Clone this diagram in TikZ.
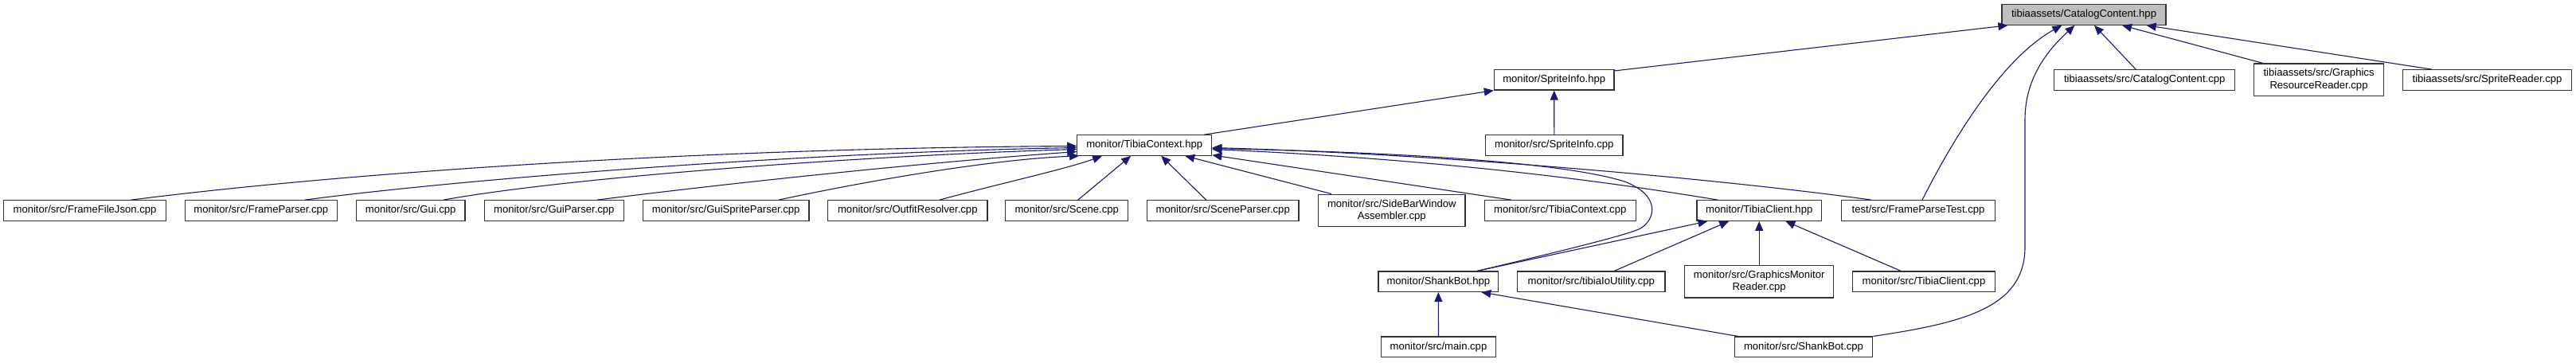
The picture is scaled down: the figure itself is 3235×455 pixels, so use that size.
\documentclass[tikz,border=0pt]{standalone}
\usepackage{fontspec}
\setmainfont{Liberation Sans}
\usetikzlibrary{arrows.meta,calc}
\definecolor{edgeblue}{HTML}{191970}
\definecolor{rootgray}{HTML}{BFBFBF}
\begin{document}
\begin{tikzpicture}[x=1pt,y=-1pt,
  box/.style={draw=black!80,line width=1.2pt,fill=white,inner sep=0pt,align=center,
    font=\fontsize{13.1}{15.7}\selectfont,minimum height=25.5pt},
  tall/.style={minimum height=40.7pt},
  dep/.style={draw=edgeblue,line width=1.1pt,-{Triangle[length=12pt,width=10pt]}}
]
\path[use as bounding box,fill=white] (0,0) rectangle (3235,455);

% row 0
\node[box,fill=rootgray,minimum width=206pt] (CC) at (2617,18.5) {tibiaassets/CatalogContent.hpp};
% row 1
\node[box,minimum width=150.7pt] (SIh) at (1951.7,100.3) {monitor/SpriteInfo.hpp};
\node[box,minimum width=227pt] (CCcpp) at (2693.2,100.5) {tibiaassets/src/CatalogContent.cpp};
\node[box,tall,minimum width=163.4pt] (GRR) at (2912,100.3) {tibiaassets/src/Graphics\\ResourceReader.cpp};
\node[box,minimum width=211.6pt] (SR) at (3123.5,100.5) {tibiaassets/src/SpriteReader.cpp};
% row 2
\node[box,minimum width=172.3pt] (SIcpp) at (1951.8,182.5) {monitor/src/SpriteInfo.cpp};
\node[box,minimum width=169pt] (TCh) at (1437.2,182.5) {monitor/TibiaContext.hpp};
% row 3
\node[box,minimum width=203.6pt] (FFJ) at (106.5,264.5) {monitor/src/FrameFileJson.cpp};
\node[box,minimum width=191pt] (FP) at (327.8,264.5) {monitor/src/FrameParser.cpp};
\node[box,minimum width=136.7pt] (Gui) at (515.7,264.5) {monitor/src/Gui.cpp};
\node[box,minimum width=175pt] (GP) at (695.8,264.5) {monitor/src/GuiParser.cpp};
\node[box,minimum width=208.7pt] (GSP) at (911.7,264.5) {monitor/src/GuiSpriteParser.cpp};
\node[box,minimum width=200.5pt] (OR) at (1139.8,264.5) {monitor/src/OutfitResolver.cpp};
\node[box,minimum width=154pt] (Scene) at (1339.7,264.5) {monitor/src/Scene.cpp};
\node[box,minimum width=190.7pt] (SP) at (1535.7,264.5) {monitor/src/SceneParser.cpp};
\node[box,tall,minimum width=184.3pt] (SB) at (1747.8,264.5) {monitor/src/SideBarWindow\\Assembler.cpp};
\node[box,minimum width=189.8pt] (TCcpp) at (1959.2,264.5) {monitor/src/TibiaContext.cpp};
\node[box,minimum width=156.3pt] (TCl) at (2209.2,264.5) {monitor/TibiaClient.hpp};
\node[box,minimum width=192.5pt] (FPT) at (2409,264.5) {test/src/FrameParseTest.cpp};
% row 4
\node[box,minimum width=150.7pt] (SBh) at (1806.3,353.7) {monitor/ShankBot.hpp};
\node[box,minimum width=185.3pt] (TIU) at (1998.3,353.7) {monitor/src/tibiaIoUtility.cpp};
\node[box,tall,minimum width=187pt] (GMR) at (2209.2,353.7) {monitor/src/GraphicsMonitor\\Reader.cpp};
\node[box,minimum width=178.6pt] (TCcl) at (2416,353.7) {monitor/src/TibiaClient.cpp};
% row 5
\node[box,minimum width=144.4pt] (main) at (1806.5,435.8) {monitor/src/main.cpp};
\node[box,minimum width=173.4pt] (SBcpp) at (2265,435.8) {monitor/src/ShankBot.cpp};

% edges into CatalogContent.hpp
\draw[dep] ($(SIh.north east)+(0,2)$) -- ($(CC.south west)+(8,0)$);
\draw[dep] ($(FPT.north)+(5,0)$) .. controls (2460,160) and (2520,70) .. ($(CC.south west)+(76,0)$);
\draw[dep] (SBcpp.north east) .. controls (2470,405) and (2543,385) .. (2543,310) -- (2543,150) .. controls (2543,95) and (2575,60) .. ($(CC.south west)+(92,0)$);
\draw[dep] ($(CCcpp.north)+(-11,0)$) -- ($(CC.south)+(13,0)$);
\draw[dep] ($(GRR.north west)+(12,0)$) -- ($(CC.south)+(48,0)$);
\draw[dep] ($(SR.north west)+(37,0)$) -- ($(CC.south east)+(-25,0)$);

% edges into SpriteInfo.hpp
\draw[dep] (SIcpp) -- (SIh);
\draw[dep] ($(TCh.north east)+(-10,0)$) -- (SIh.south west);

% edges into TibiaContext.hpp
\draw[dep] ($(FFJ.north)+(58,0)$) .. controls (450,215) and (900,186) .. ($(TCh.west)+(0,1)$);
\draw[dep] ($(FP.north)+(55,0)$) .. controls (580,225) and (1000,192) .. ($(TCh.west)+(0,3)$);
\draw[dep] ($(Gui.north)+(41,0)$) .. controls (720,222) and (1080,196) .. ($(TCh.west)+(0,5)$);
\draw[dep] ($(GP.north)+(54,0)$) .. controls (900,232) and (1150,205) .. ($(TCh.west)+(0,8)$);
\draw[dep] ($(GSP.north)+(66,0)$) .. controls (1100,225) and (1250,200) .. ($(TCh.south west)+(3,0)$);
\draw[dep] ($(OR.north)+(40,0)$) .. controls (1250,232) and (1340,212) .. ($(TCh.south west)+(32,0)$);
\draw[dep] ($(Scene.north)+(14,0)$) -- ($(TCh.south)+(-17,0)$);
\draw[dep] ($(SP.north)+(-21,0)$) -- ($(TCh.south)+(21,0)$);
\draw[dep] ($(SB.north west)+(17,0)$) -- ($(TCh.south)+(51,0)$);
\draw[dep] ($(TCcpp.north west)+(34,0)$) -- ($(TCh.south east)+(0,-1)$);
\draw[dep] ($(TCl.north)+(-52,0)$) .. controls (2000,225) and (1800,200) .. ($(TCh.east)+(0,5)$);
\draw[dep] ($(FPT.north)+(-59,0)$) .. controls (2200,230) and (1850,195) .. ($(TCh.east)+(0,3)$);
\draw[dep] ($(SBh.north)+(49,0)$) .. controls (1950,318) and (2045,295) .. (2060,287)
  .. controls (2080,275) and (2085,245) .. (2040,228)
  .. controls (1950,200) and (1700,190) .. ($(TCh.east)+(0,4)$);

% edges into TibiaClient.hpp
\draw[dep] ($(SBh.north)+(49,0)$) -- ($(TCl.south west)+(14,0)$);
\draw[dep] ($(TIU.north)+(29,0)$) -- ($(TCl.south)+(-38,0)$);
\draw[dep] (GMR) -- (TCl);
\draw[dep] ($(TCcl.north west)+(61,0)$) -- ($(TCl.south)+(33,0)$);

% edges into ShankBot.hpp
\draw[dep] (main) -- (SBh);
\draw[dep] ($(SBcpp.north west)+(5,0)$) -- ($(SBh.south east)+(-22,0)$);
\end{tikzpicture}
\end{document}
